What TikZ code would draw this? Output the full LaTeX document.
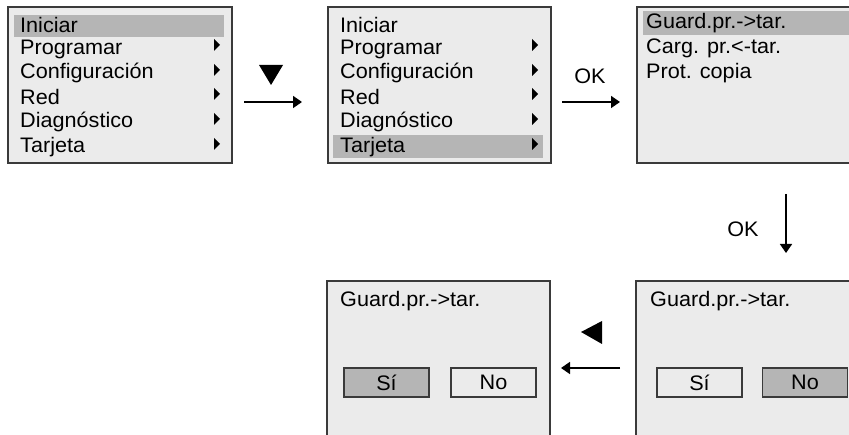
\documentclass[tikz,border=0pt]{standalone}
\usepackage{fontspec}
\setmainfont[FakeStretch=1.03]{Liberation Sans}
\usetikzlibrary{arrows.meta}
\definecolor{scr}{HTML}{EBEBEB}
\definecolor{hil}{HTML}{B5B5B5}
\definecolor{frm}{HTML}{3A3A3A}
\tikzset{
  screen/.style={draw=frm, fill=scr, line width=1.6pt},
  hl/.style={fill=hil, draw=none},
  item/.style={anchor=west, inner sep=0pt, font=\fontsize{21}{23}\selectfont},
  btn/.style={draw=frm, line width=1.3pt, minimum width=85pt, minimum height=29pt, inner sep=0pt, font=\fontsize{21}{23}\selectfont},
  btnon/.style={btn, fill=hil},
  btnoff/.style={btn, fill=scr},
  sub/.style={fill=black, draw=none},
  flow/.style={line width=1.6pt, -{Triangle[length=9pt,width=12pt]}},
  lbl/.style={inner sep=0pt, font=\fontsize{21}{23}\selectfont}
}
\begin{document}
\begin{tikzpicture}[x=1pt,y=-1pt]
\useasboundingbox (0,0) rectangle (849,435);
\clip (0,0) rectangle (849,435);
% Box 1
\draw[screen] (8,7) rectangle (232,163);
\fill[hl] (14,15) rectangle (224,37);
\node[item] (a1) at (20,25) {Iniciar};
\node[item] (a2) at (20,49) {Programar};
\node[item] (a3) at (20,73) {Configuración};
\node[item] (a4) at (20,97) {Red};
\node[item] (a5) at (20,122) {Diagnóstico};
\node[item] (a6) at (20,147) {Tarjeta};
\foreach \y in {45,70,94,119,144}{\fill[sub] (214,\y-6) -- (220,\y) -- (214,\y+6) -- cycle;}
% Box 2
\draw[screen] (328,7) rectangle (551,163);
\fill[hl] (333,135) rectangle (543,158);
\node[item] (b1) at (340,25) {Iniciar};
\node[item] (b2) at (340,49) {Programar};
\node[item] (b3) at (340,73) {Configuración};
\node[item] (b4) at (340,97) {Red};
\node[item] (b5) at (340,122) {Diagnóstico};
\node[item] (b6) at (340,147) {Tarjeta};
\foreach \y in {45,70,94,119,144}{\fill[sub] (532,\y-6) -- (538,\y) -- (532,\y+6) -- cycle;}
% Box 3
\draw[screen] (637,7) rectangle (880,163);
\fill[hl] (643,11) rectangle (849,35);
\node[item] (c1) at (646,23) {Guard.pr.->tar.};
\node[item] (c2) at (646,48) {Carg. pr.<-tar.};
\node[item] (c3) at (646,73) {Prot. copia};
% Box 4
\draw[screen] (636,281) rectangle (880,450);
\node[item] (d1) at (650,301) {Guard.pr.->tar.};
\node[btnoff] (dsi) at (699.5,382.5) {Sí};
\node[btnon] (dno) at (805,382.5) {No};
% Box 5
\draw[screen] (327,281) rectangle (550,450);
\node[item] (e1) at (340,301) {Guard.pr.->tar.};
\node[btnon] (esi) at (386.5,382.5) {Sí};
\node[btnoff] (eno) at (493.5,382.5) {No};
% Arrows
\coordinate (p1s) at (244,102); \coordinate (p1e) at (302,102);
\draw[flow] (p1s) -- (p1e);
\fill[sub] (259,65) -- (283,65) -- (271,85) -- cycle;
\coordinate (p2s) at (562,102); \coordinate (p2e) at (620,102);
\draw[flow] (p2s) -- (p2e);
\node[lbl] (ok1) at (590,76) {OK};
\coordinate (p3s) at (786,194); \coordinate (p3e) at (786,253);
\draw[flow] (p3s) -- (p3e);
\node[lbl] (ok2) at (743,229) {OK};
\coordinate (p4s) at (620,368); \coordinate (p4e) at (561,368);
\draw[flow] (p4s) -- (p4e);
\fill[sub] (581,332) -- (602,321) -- (602,344) -- cycle;
\end{tikzpicture}
\end{document}
